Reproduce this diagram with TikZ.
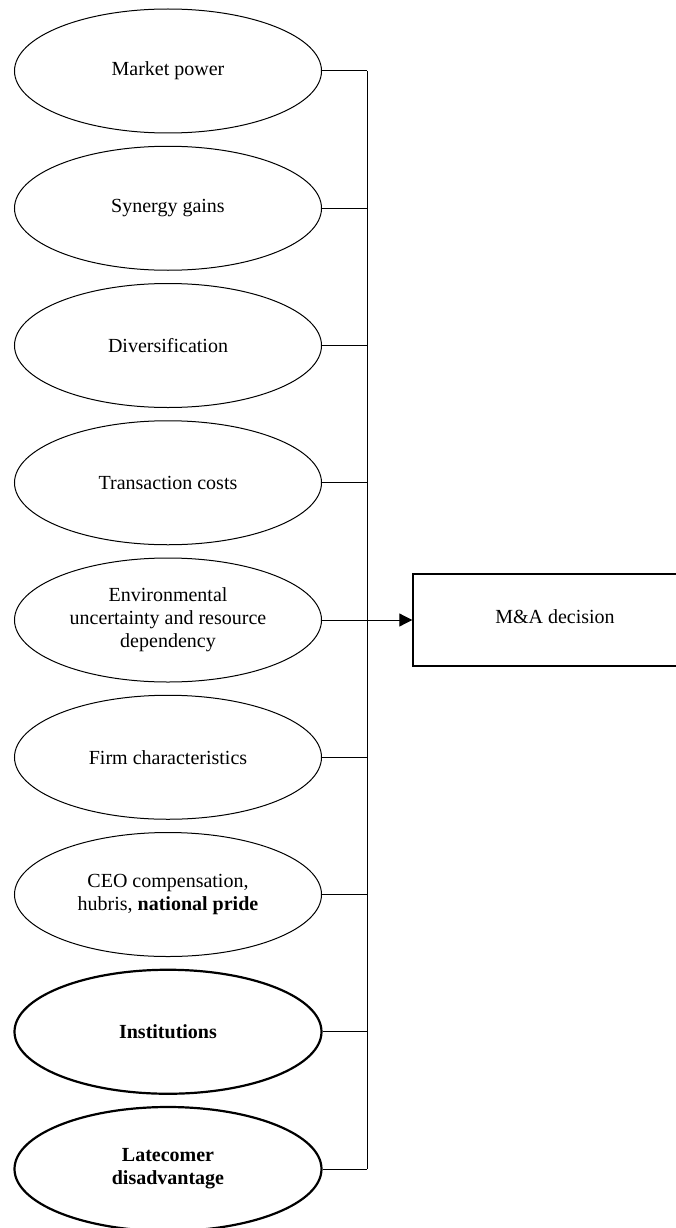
\documentclass[tikz,border=0pt]{standalone}
\usepackage{fontspec}
\setmainfont{Liberation Serif}
\usetikzlibrary{arrows.meta,positioning,shapes.geometric}

\begin{document}
\begin{tikzpicture}[x=1pt,y=-1pt,node distance=137.25pt,on grid,
    font=\fontsize{20}{23}\selectfont]
  \tikzstyle{nodeE}=[ellipse,draw,line width=1pt,minimum width=307pt,minimum height=124pt,inner sep=0pt,align=center]
  \tikzstyle{nodeT}=[nodeE,line width=2.2pt,font=\fontsize{20}{23}\selectfont\bfseries]
  \tikzstyle{nodeR}=[rectangle,draw,line width=1.4pt,minimum width=284pt,minimum height=92pt,align=center]

  \useasboundingbox (0,0) rectangle (675,1228);

  \node[nodeE] (market) at (168,71) {Market power};
  \node[nodeE] (synergy) [below=of market] {Synergy gains};
  \node[nodeE] (divers) [below=of synergy] {Diversification};
  \node[nodeE] (trans) [below=of divers] {Transaction costs};
  \node[nodeE] (env) [below=of trans] {Environmental\\uncertainty and resource\\dependency};
  \node[nodeE] (firm) [below=of env] {Firm characteristics};
  \node[nodeE] (ceo) [below=of firm] {CEO compensation,\\hubris, \textbf{national pride}};
  \node[nodeT] (inst) [below=of ceo] {Institutions};
  \node[nodeT] (late) [below=of inst] {Latecomer\\disadvantage};

  \node[nodeR] (decision) [right=387pt of env] {\raisebox{6pt}{M\&A decision}};

  % collecting line
  \coordinate (bus) at (367,0);
  \draw[line width=1pt] (market.east -| bus) -- (late.east -| bus);
  \foreach \n in {market,synergy,divers,trans,firm,ceo,inst,late}
    \draw[line width=1pt] (\n.east) -- (\n.east -| bus);

  \path[-{Triangle[length=13pt,width=13pt]},line width=1pt] (env.east) edge (decision.west);
\end{tikzpicture}
\end{document}
